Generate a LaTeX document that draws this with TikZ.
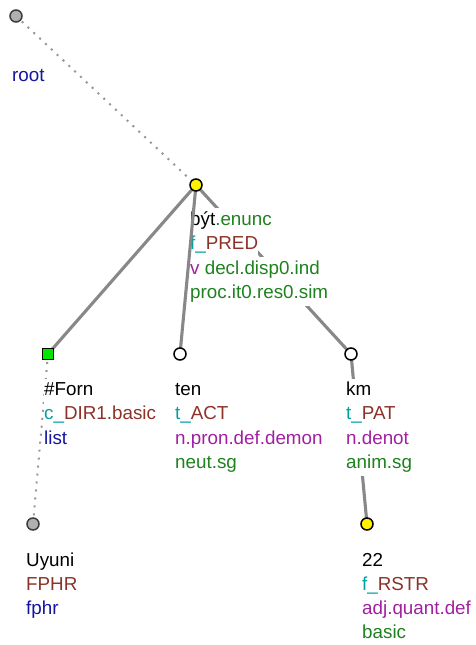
\documentclass[tikz,border=0pt]{standalone}
\usepackage{fontspec}
\setmainfont{Liberation Sans}
\definecolor{cgreen}{RGB}{30,130,30}
\definecolor{cteal}{RGB}{0,160,160}
\definecolor{cbrown}{RGB}{140,50,40}
\definecolor{cmag}{RGB}{160,32,160}
\definecolor{cblue}{RGB}{20,20,160}
\definecolor{cedge}{RGB}{136,136,136}
\definecolor{cdot}{RGB}{150,150,150}
\begin{document}
\begin{tikzpicture}[x=1pt,y=-1pt,
  solidedge/.style={draw=cedge,line width=3.1pt},
  dotedge/.style={draw=cdot,line width=2pt,dash pattern=on 2pt off 6pt},
  tnode/.style={circle,draw=black,line width=1.5pt,minimum size=12pt,inner sep=0pt},
  graynode/.style={tnode,fill={rgb,255:red,176;green,176;blue,176},draw={rgb,255:red,60;green,60;blue,60}},
  yellownode/.style={tnode,fill=yellow},
  whitenode/.style={tnode,fill=white},
  greennode/.style={rectangle,draw=black,line width=1.4pt,minimum size=11pt,inner sep=0pt,fill={rgb,255:red,0;green,230;blue,0}},
  lbl/.style={anchor=base west,inner sep=0pt,fill=white,text height=17pt,text depth=7.5pt,font=\fontsize{18.8}{24}\selectfont}
]
\useasboundingbox (0,0) rectangle (475,645);

% tree node coordinates
\coordinate (pRoot) at (16,16);
\coordinate (pByt) at (196,185);
\coordinate (pForn) at (48,354);
\coordinate (pTen) at (180,354);
\coordinate (pKm) at (351,354);
\coordinate (pUyuni) at (33,524);
\coordinate (p22) at (367,524);

% edges partly hidden behind labels
\draw[solidedge] (pByt) -- (pKm);
\draw[solidedge] (pKm) -- (p22);
\draw[dotedge] (pForn) -- (pUyuni);

% label of byt
\node[lbl] (lb1) at (190,225) {být\textcolor{cgreen}{.enunc}};
\node[lbl] (lb2) at (190,249.5) {\textcolor{cteal}{f\_}\textcolor{cbrown}{PRED}};
\node[lbl] (lb3) at (190,274) {\textcolor{cmag}{v} \textcolor{cgreen}{decl.disp0.ind}};
\node[lbl] (lb4) at (190,298.5) {\textcolor{cgreen}{proc.it0.res0.sim}};

% labels
\node[lbl] (lr1) at (12,81) {\textcolor{cblue}{root}};

\node[lbl] (lf1) at (44,395.5) {\#Forn};
\node[lbl] (lf2) at (44,419.5) {\textcolor{cteal}{c\_}\textcolor{cbrown}{DIR1.basic}};
\node[lbl] (lf3) at (44,444) {\textcolor{cblue}{list}};

\node[lbl] (lt1) at (175,395.5) {ten};
\node[lbl] (lt2) at (175,419.5) {\textcolor{cteal}{t\_}\textcolor{cbrown}{ACT}};
\node[lbl] (lt3) at (175,444) {\textcolor{cmag}{n.pron.def.demon}};
\node[lbl] (lt4) at (175,468) {\textcolor{cgreen}{neut.sg}};

\node[lbl] (lk1) at (346,395.5) {km};
\node[lbl] (lk2) at (346,419.5) {\textcolor{cteal}{t\_}\textcolor{cbrown}{PAT}};
\node[lbl] (lk3) at (346,444) {\textcolor{cmag}{n.denot}};
\node[lbl] (lk4) at (346,468) {\textcolor{cgreen}{anim.sg}};

\node[lbl] (lu1) at (26,566) {Uyuni};
\node[lbl] (lu2) at (26,590) {\textcolor{cbrown}{FPHR}};
\node[lbl] (lu3) at (26,614) {\textcolor{cblue}{fphr}};

\node[lbl] (lz1) at (362,566) {22};
\node[lbl] (lz2) at (362,590) {\textcolor{cteal}{f\_}\textcolor{cbrown}{RSTR}};
\node[lbl] (lz3) at (362,614) {\textcolor{cmag}{adj.quant.def}};
\node[lbl] (lz4) at (362,638) {\textcolor{cgreen}{basic}};

% other edges
\draw[dotedge] (pRoot) -- (pByt);
\draw[solidedge] (pByt) -- (pForn);
\draw[solidedge] (pByt) -- (pTen);

% node markers
\node[graynode] (nRoot) at (pRoot) {};
\node[yellownode] (nByt) at (pByt) {};
\node[greennode] (nForn) at (pForn) {};
\node[whitenode] (nTen) at (pTen) {};
\node[whitenode] (nKm) at (pKm) {};
\node[graynode] (nUyuni) at (pUyuni) {};
\node[yellownode] (n22) at (p22) {};
\end{tikzpicture}
\end{document}
